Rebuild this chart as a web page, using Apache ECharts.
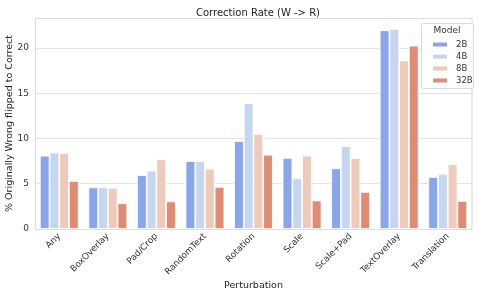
<!DOCTYPE html>
<html><head><meta charset="utf-8">
<script src="https://cdn.jsdelivr.net/npm/echarts@6/dist/echarts.min.js"></script>
<style>html,body{margin:0;padding:0;background:#fff}#c{width:479px;height:296px}</style>
</head><body><div id="c"></div>
<script>
const categories = ["Any","BoxOverlay","Pad/Crop","RandomText","Rotation","Scale","Scale+Pad","TextOverlay","Translation"];
const models = ["2B","4B","8B","32B"];
const v2B  = [8.1, 4.6, 5.95, 7.5, 9.7, 7.85, 6.7, 21.95, 5.75];
const v4B  = [8.45, 4.6, 6.45, 7.5, 13.9, 5.6, 9.15, 22.1, 6.1];
const v8B  = [8.4, 4.55, 7.7, 6.65, 10.5, 8.1, 7.85, 18.6, 7.15];
const v32B = [5.3, 2.85, 3.05, 4.65, 8.2, 3.15, 4.1, 20.25, 3.1];
const yTicks = [0,5,10,15,20];
const colors = ["#8aa6e8","#c6d6f0","#edcbbb","#de8c76"];
const F = "DejaVu Sans";
const seriesData = [v2B, v4B, v8B, v32B];
const chart = echarts.init(document.getElementById('c'));
chart.setOption({
  animation:false,
  title:{text:"Correction Rate (W -> R)",left:253,top:3,textAlign:'center',textStyle:{fontFamily:F,fontSize:10,fontWeight:'normal',color:'#222'}},
  grid:{left:35,right:7,top:18,bottom:67,outerBoundsMode:'none',containLabel:false},
  legend:{data:models,orient:'vertical',left:426,top:35,itemWidth:16,itemHeight:6,itemGap:3,icon:'rect',z:10,
    textStyle:{fontFamily:F,fontSize:8.5,color:'#333',padding:[0,0,0,3],lineHeight:9}},
  xAxis:{type:'category',data:categories,
    name:'Perturbation',nameLocation:'middle',nameGap:52,nameMoveOverlap:false,nameTextStyle:{fontFamily:F,fontSize:9.5,color:'#222'},
    axisLine:{lineStyle:{color:'#dddddd',width:1.2}},axisTick:{show:false},
    axisLabel:{rotate:45,fontFamily:F,fontSize:8.8,color:'#333',margin:6,interval:0},
    splitLine:{show:false}},
  yAxis:{type:'value',min:0,max:23.3,interval:5,
    name:'% Originally Wrong flipped to Correct',nameLocation:'middle',nameGap:20,nameMoveOverlap:false,nameTextStyle:{fontFamily:F,fontSize:9.5,color:'#222'},
    axisLine:{show:true,lineStyle:{color:'#dddddd',width:1.2}},axisTick:{show:false},
    axisLabel:{fontFamily:F,fontSize:9,color:'#333',margin:6,
      formatter:function(v){return yTicks.indexOf(v)>=0?String(v):'';}},
    splitLine:{show:true,lineStyle:{color:'#e3e3e3',width:1}}},
  series: models.map((m,i)=>({
    name:m,type:'bar',data:seriesData[i],barGap:'0%',barCategoryGap:'20%',
    itemStyle:{color:colors[i],borderColor:'#fff',borderWidth:0.8}
  })),
  color:colors,
  graphic:[
    {type:'rect',shape:{x:421.5,y:23.5,width:52,height:65,r:2},style:{fill:'rgba(255,255,255,0.85)',stroke:'#d8d8d8',lineWidth:1},z:5},
    {type:'text',x:447,y:26,style:{text:'Model',fontFamily:F,fontSize:9,fill:'#333',align:'center'},z:6},
    {type:'line',shape:{x1:35,y1:18.5,x2:472,y2:18.5},style:{stroke:'#dddddd',lineWidth:1.2},z:1},
    {type:'line',shape:{x1:472,y1:18,x2:472,y2:229},style:{stroke:'#dddddd',lineWidth:1.2},z:1}
  ]
});
</script></body></html>
